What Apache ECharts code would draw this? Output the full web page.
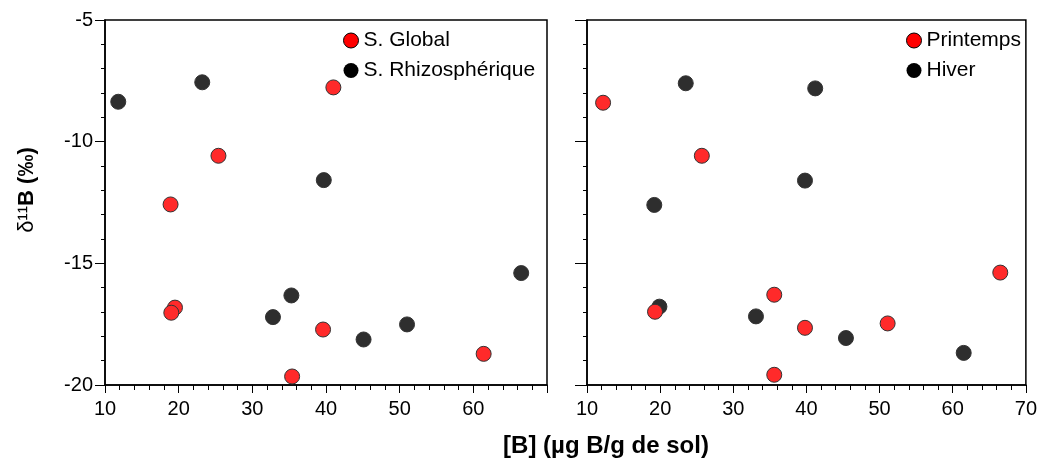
<!DOCTYPE html>
<html>
<head>
<meta charset="utf-8">
<script src="https://cdn.jsdelivr.net/npm/echarts@6/dist/echarts.min.js"></script>
<style>
    html, body { margin: 0; padding: 0; background: #fff; }
    #chart { width: 1040px; height: 459px; }
</style>
</head>
<body>
<div id="chart"></div>
<script>
    // points: [B] (µg B/g de sol), δ11B (‰)
    const sGlobal = [[41.0, -7.77], [25.4, -10.58], [18.9, -12.58], [19.5, -16.82], [19.0, -17.03], [39.6, -17.72], [61.4, -18.72], [35.4, -19.65]];
    const sRhizo = [[11.8, -8.36], [23.2, -7.56], [39.7, -11.58], [66.5, -15.4], [35.3, -16.32], [32.8, -17.21], [45.1, -18.13], [51.0, -17.51]];
    const printemps = [[12.2, -8.4], [25.7, -10.58], [66.5, -15.38], [35.6, -16.29], [19.3, -16.99], [39.8, -17.65], [51.1, -17.47], [35.6, -19.58]];
    const hiver = [[23.5, -7.6], [41.2, -7.81], [39.8, -11.6], [19.2, -12.6], [19.9, -16.78], [33.1, -17.18], [45.4, -18.07], [61.5, -18.68]];

    const xTicks = [10, 70, 10];   // min, max, interval
    const yTicks = [-20, -5, 5];

    const font = 'Liberation Sans, Arial, Helvetica, sans-serif';
    const red = '#ff2a2a';
    const dark = '#2e2e2e';

    function xAxis(gridIndex, showLast) {
        return {
            type: 'value', gridIndex: gridIndex,
            min: xTicks[0], max: xTicks[1], interval: xTicks[2],
            axisLine: { lineStyle: { color: '#000', width: 1.5 } },
            axisTick: { show: true, inside: false, length: 8, lineStyle: { color: '#000' } },
            minorTick: { show: true, splitNumber: 5, length: 5, lineStyle: { color: '#000' } },
            splitLine: { show: false },
            axisLabel: { fontFamily: font, fontSize: 20, color: '#000', margin: 14, showMaxLabel: showLast }
        };
    }

    function yAxis(gridIndex, showLabels, tickLen) {
        return {
            type: 'value', gridIndex: gridIndex,
            min: yTicks[0], max: yTicks[1], interval: yTicks[2],
            axisLine: { show: true, lineStyle: { color: '#000', width: 1.5 } },
            axisTick: { show: true, inside: false, length: tickLen, lineStyle: { color: '#000' } },
            minorTick: { show: true, splitNumber: 5, length: 4, lineStyle: { color: '#000' } },
            splitLine: { show: false },
            axisLabel: { show: showLabels, fontFamily: font, fontSize: 20, color: '#000', margin: 12 }
        };
    }

    function pts(name, data, color, xi, z) {
        return {
            name: name, type: 'scatter', xAxisIndex: xi, yAxisIndex: xi,
            data: data, symbolSize: 15, z: z,
            itemStyle: { color: color, opacity: 1, borderColor: '#333', borderWidth: 1 }
        };
    }

    function legend(left, items) {
        return {
            orient: 'vertical', left: left, top: 25, itemGap: 9,
            itemWidth: 15, itemHeight: 15, icon: 'circle', itemTextGap: 5,
            textStyle: { fontFamily: font, fontSize: 21, color: '#000' },
            data: items
        };
    }

    const chart = echarts.init(document.getElementById('chart'));

    chart.setOption({
        animation: false,
        backgroundColor: '#fff',
        grid: [
            { left: 105, top: 20, width: 442, height: 365, show: true, borderColor: '#000', borderWidth: 1.5, backgroundColor: 'transparent' },
            { left: 587, top: 20, width: 440, height: 365, show: true, borderColor: '#000', borderWidth: 1.5, backgroundColor: 'transparent' }
        ],
        xAxis: [xAxis(0, false), xAxis(1, true)],
        yAxis: [yAxis(0, true, 10), yAxis(1, false, 12)],
        legend: [
            legend(338, [
                { name: 'S. Global', itemStyle: { color: '#ff0000', borderColor: '#000', borderWidth: 1 } },
                { name: 'S. Rhizosphérique', itemStyle: { color: '#000', borderWidth: 0 } }
            ]),
            legend(901, [
                { name: 'Printemps', itemStyle: { color: '#ff0000', borderColor: '#000', borderWidth: 1 } },
                { name: 'Hiver', itemStyle: { color: '#000', borderWidth: 0 } }
            ])
        ],
        series: [
            pts('S. Rhizosphérique', sRhizo, dark, 0, 2),
            pts('S. Global', sGlobal, red, 0, 3),
            pts('Hiver', hiver, dark, 1, 2),
            pts('Printemps', printemps, red, 1, 3)
        ],
        graphic: [
            {
                type: 'text', x: 27, y: 190, rotation: Math.PI / 2,
                style: {
                    text: '{n|δ¹¹}{b|B (‰)}',
                    align: 'center', verticalAlign: 'middle',
                    rich: {
                        n: { fontFamily: font, fontSize: 22, fill: '#000' },
                        b: { fontFamily: font, fontSize: 22, fontWeight: 'bold', fill: '#000' }
                    }
                }
            },
            {
                type: 'text', x: 606, y: 446,
                style: {
                    text: '[B] (µg B/g de sol)',
                    align: 'center', verticalAlign: 'middle',
                    fontFamily: font, fontSize: 24, fontWeight: 'bold', fill: '#000'
                }
            }
        ]
    });
</script>
